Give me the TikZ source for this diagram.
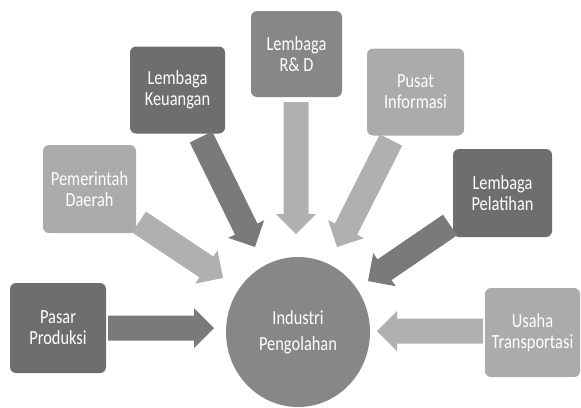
\documentclass[tikz,border=0pt]{standalone}
\usepackage{fontspec}
\newfontfamily\lblfont{Carlito}[FakeStretch=0.82]
\usetikzlibrary{calc,shapes.geometric}
\definecolor{gdark}{gray}{0.43}
\definecolor{gmid}{gray}{0.53}
\definecolor{glight}{gray}{0.67}
\definecolor{adark}{gray}{0.48}
\definecolor{alight}{gray}{0.69}
\def\bsw{12.5pt}
\def\bhw{20pt}
\def\bhl{20pt}
\newcommand{\blockarrow}[3]{%
  \fill[#1] ($(#2)!\bsw!90:(#3)$)
    -- ($(#3)!\bhl!(#2)!\bsw!-90:(#2)$)
    -- ($(#3)!\bhl!(#2)!\bhw!-90:(#2)$)
    -- (#3)
    -- ($(#3)!\bhl!(#2)!\bhw!90:(#2)$)
    -- ($(#3)!\bhl!(#2)!\bsw!90:(#2)$)
    -- ($(#2)!\bsw!-90:(#3)$) -- cycle;}
\tikzset{
  boxnode/.style={rounded corners=6pt, minimum width=95pt, minimum height=87pt,
    inner sep=0pt, align=center, text=white,
    font=\lblfont\fontsize{20}{21}\selectfont},
}
\begin{document}
\begin{tikzpicture}[x=1pt,y=-1pt]
\useasboundingbox[fill=white] (0,0) rectangle (581,407);
% boxes
\node[boxnode, fill=gmid, minimum width=91pt, minimum height=86pt] (rd) at (296.5,54) {Lembaga\\R\& D};
\node[boxnode, fill=gdark] (keu) at (177.5,90) {Lembaga\\Keuangan};
\node[boxnode, fill=glight, minimum width=97pt] (pus) at (415.5,92) {Pusat\\Informasi};
\node[boxnode, fill=glight, minimum width=93pt, minimum height=88pt] (pem) at (89.5,189) {Pemerintah\\Daerah};
\node[boxnode, fill=gdark, minimum width=99pt, minimum height=88pt] (pel) at (502.5,193) {Lembaga\\Pelatihan};
\node[boxnode, fill=gdark, minimum width=96pt, minimum height=90pt] (pas) at (58,328) {Pasar\\Produksi};
\node[boxnode, fill=glight, minimum height=89pt] (usa) at (532.5,332.5) {Usaha\\Transportasi};
% centre
\node[ellipse, fill=gmid, minimum width=144pt, minimum height=150pt, inner sep=0pt,
  align=center, text=white, font=\lblfont\fontsize{20}{26}\selectfont] (ind) at (298,332) {Industri\\Pengolahan};
% arrow end points
\coordinate (pasS) at (108,328);  \coordinate (pasE) at (214,328);
\coordinate (usaS) at (483,331);  \coordinate (usaE) at (377,331);
\coordinate (rdS)  at (296,102);  \coordinate (rdE)  at (296,234);
\coordinate (keuS) at (201,137);  \coordinate (keuE) at (255,247);
\coordinate (pemS) at (139,222);  \coordinate (pemE) at (223,278);
\coordinate (pusS) at (391,140);  \coordinate (pusE) at (337,247);
\coordinate (pelS) at (450,225);  \coordinate (pelE) at (368,281);
% arrows
\blockarrow{adark}{pasS}{pasE}
\blockarrow{alight}{usaS}{usaE}
\blockarrow{alight}{rdS}{rdE}
\blockarrow{adark}{keuS}{keuE}
\blockarrow{alight}{pemS}{pemE}
\blockarrow{alight}{pusS}{pusE}
\blockarrow{adark}{pelS}{pelE}
\end{tikzpicture}
\end{document}
